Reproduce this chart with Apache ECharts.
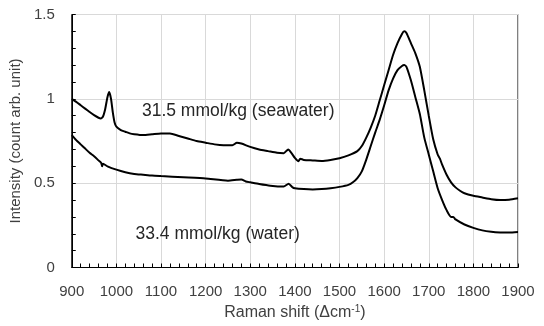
<!DOCTYPE html>
<html>
<head>
<meta charset="utf-8">
<script src="https://cdn.jsdelivr.net/npm/echarts@6/dist/echarts.min.js"></script>
<style>html,body{margin:0;padding:0;background:#fff}#c{width:544px;height:326px}</style>
</head>
<body>
<div id="c"></div>
<script>
// Raman shift (cm-1) and intensity for the seawater sample (31.5 mmol/kg)
var seaShift = [900,910,920,930,940,950,960,965,970,975,980,984,988,992,996,1000,1010,1020,1030,1040,1060,1080,1100,1120,1140,1160,1180,1200,1220,1240,1260,1270,1280,1300,1320,1340,1360,1375,1385,1392,1400,1408,1412,1420,1440,1460,1480,1500,1520,1540,1550,1560,1570,1580,1590,1600,1610,1620,1630,1640,1645,1650,1660,1670,1680,1690,1700,1710,1720,1725,1730,1740,1750,1760,1770,1780,1800,1820,1840,1860,1880,1900];
var seaIntensity = [1.00,0.982,0.962,0.942,0.922,0.903,0.888,0.884,0.895,0.94,1.01,1.04,1.00,0.92,0.86,0.835,0.815,0.805,0.795,0.79,0.785,0.79,0.795,0.795,0.78,0.765,0.75,0.74,0.73,0.725,0.725,0.74,0.735,0.715,0.70,0.69,0.68,0.678,0.70,0.68,0.65,0.63,0.645,0.638,0.635,0.632,0.638,0.648,0.665,0.69,0.72,0.77,0.83,0.90,0.99,1.08,1.17,1.26,1.33,1.385,1.40,1.39,1.33,1.27,1.19,1.05,0.90,0.76,0.67,0.645,0.61,0.55,0.505,0.475,0.455,0.44,0.425,0.415,0.405,0.40,0.402,0.41];

// Raman shift (cm-1) and intensity for the water sample (33.4 mmol/kg)
var waterShift = [900,910,920,930,940,950,960,966,968,970,980,1000,1020,1040,1060,1080,1100,1150,1200,1250,1270,1280,1290,1300,1320,1345,1375,1386,1395,1400,1420,1440,1460,1480,1500,1520,1530,1540,1550,1560,1570,1580,1590,1600,1610,1620,1630,1640,1645,1650,1660,1670,1680,1690,1700,1710,1720,1730,1740,1750,1755,1760,1780,1800,1820,1840,1860,1880,1900];
var waterIntensity = [0.785,0.755,0.73,0.705,0.68,0.66,0.635,0.62,0.60,0.615,0.60,0.58,0.565,0.555,0.55,0.545,0.542,0.535,0.528,0.515,0.52,0.522,0.51,0.505,0.495,0.485,0.48,0.497,0.475,0.47,0.465,0.463,0.465,0.47,0.478,0.49,0.505,0.53,0.57,0.64,0.72,0.80,0.875,0.96,1.05,1.12,1.17,1.195,1.20,1.19,1.11,1.01,0.91,0.77,0.67,0.57,0.47,0.40,0.34,0.30,0.30,0.285,0.255,0.235,0.22,0.212,0.208,0.207,0.21];

// Axis ticks
var xTicks = {min: 900, max: 1900, step: 100};
var yTicks = {min: 0, max: 1.5, step: 0.5};

// Series annotations (text and anchor in data units)
var seaLabel = {text: '31.5 mmol/kg (seawater)', at: [1273, 0.924]};
var waterLabel = {text: '33.4 mmol/kg (water)', at: [1227, 0.20]};

function pairs(xs, ys) { return xs.map(function (x, i) { return [x, ys[i]]; }); }

var FONT = 'Liberation Sans, Arial, sans-serif';

function annot(l) {
  return {
    symbol: 'circle', symbolSize: 0, silent: true,
    data: [{coord: l.at, value: l.text}],
    label: {show: true, position: 'inside', formatter: l.text, color: '#262626', fontSize: 17.5, fontFamily: FONT}
  };
}

var chart = echarts.init(document.getElementById('c'), null, {renderer: 'canvas'});
chart.setOption({
  animation: false,
  backgroundColor: '#fff',
  grid: {left: 70.5, right: 26, top: 14.5, bottom: 55, show: true, borderColor: '#000', borderWidth: 1, backgroundColor: 'transparent'},
  xAxis: {
    type: 'value', min: xTicks.min, max: xTicks.max, interval: xTicks.step,
    name: '{a|Raman shift (Δcm}{s|-1}{a|)}', nameLocation: 'middle', nameGap: 37,
    nameTextStyle: {rich: {a: {fontSize: 16, fontFamily: FONT, color: '#404040'}, s: {fontSize: 10, fontFamily: FONT, color: '#404040', verticalAlign: 'top', padding: [0, 0, 7, 0]}}},
    axisLine: {show: true, lineStyle: {color: '#000', width: 1}},
    axisTick: {show: true, inside: true, length: 4, lineStyle: {color: '#000'}},
    minorTick: {show: true, splitNumber: 5, length: 4, lineStyle: {color: '#000'}},
    splitLine: {show: true, lineStyle: {color: '#d9d9d9', width: 1}},
    axisLabel: {fontSize: 15, fontFamily: FONT, color: '#404040', margin: 17, formatter: function (v) { return String(v); }}
  },
  yAxis: {
    type: 'value', min: yTicks.min, max: yTicks.max, interval: yTicks.step,
    name: 'Intensity (count arb. unit)', nameLocation: 'middle', nameGap: 33,
    nameTextStyle: {fontSize: 15, fontFamily: FONT, color: '#404040'},
    axisLine: {show: true, lineStyle: {color: '#000', width: 1}},
    axisTick: {show: true, inside: true, length: 4, lineStyle: {color: '#000'}},
    minorTick: {show: true, splitNumber: 5, length: 4, lineStyle: {color: '#000'}},
    splitLine: {show: true, lineStyle: {color: '#d9d9d9', width: 1}},
    axisLabel: {fontSize: 15, fontFamily: FONT, color: '#404040', margin: 17, formatter: function (v) { return String(v); }}
  },
  series: [
    {type: 'line', name: 'seawater', data: pairs(seaShift, seaIntensity), showSymbol: false, smooth: 0.2,
     lineStyle: {color: '#000', width: 2}, markPoint: annot(seaLabel)},
    {type: 'line', name: 'water', data: pairs(waterShift, waterIntensity), showSymbol: false, smooth: 0.2,
     lineStyle: {color: '#000', width: 2}, markPoint: annot(waterLabel)}
  ]
});
</script>
</body>
</html>
